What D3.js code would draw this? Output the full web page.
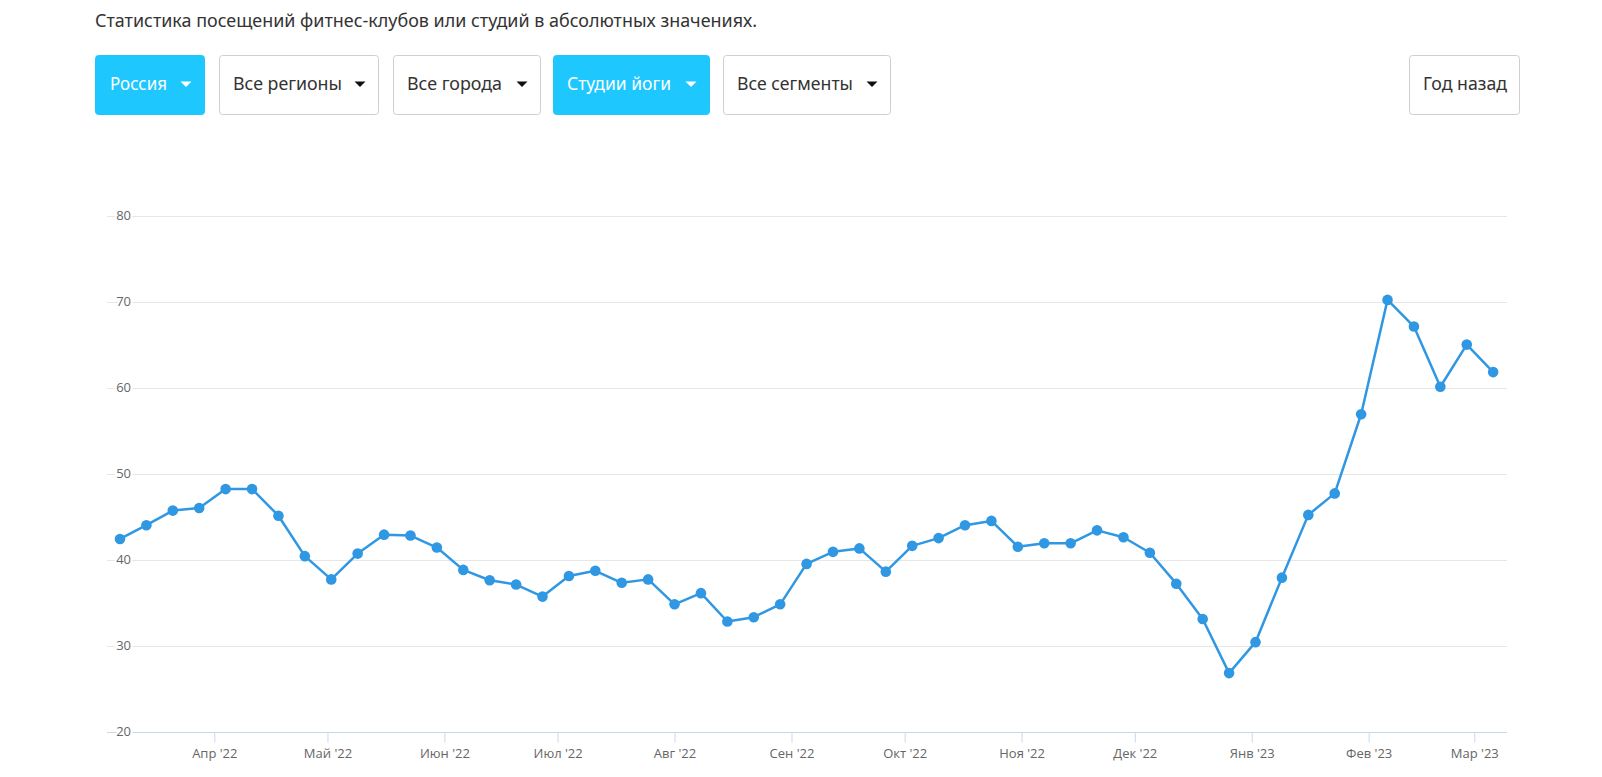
<!DOCTYPE html>
<html>
<head>
<meta charset="utf-8">
<script src="https://cdn.jsdelivr.net/npm/d3@7"></script>
<style>
html,body{margin:0;padding:0;background:#fff;}
svg{display:block;}
</style>
</head>
<body>
<svg id="chart" width="1602" height="777"></svg>
<script>
// ---- data ----
const title = "Статистика посещений фитнес-клубов или студий в абсолютных значениях.";
const buttonLabels = ["Россия", "Все регионы", "Все города", "Студии йоги", "Все сегменты"];
const buttonActive = [true, false, false, true, false];
const rightButtonLabel = "Год назад";
const startWeek = "2022-03-07";
const values = [42.4, 44.0, 45.7, 46.0, 48.2, 48.2, 45.1, 40.4, 37.7, 40.7, 42.9, 42.8, 41.4, 38.8, 37.6, 37.1, 35.7, 38.1,
  38.7, 37.3, 37.7, 34.8, 36.1, 32.8, 33.3, 34.8, 39.5, 40.9, 41.3, 38.6, 41.6, 42.5, 44.0, 44.5, 41.5, 41.9, 41.9,
  43.4, 42.6, 40.8, 37.2, 33.1, 26.8, 30.4, 37.9, 45.2, 47.7, 56.9, 70.2, 67.1, 60.1, 65.0, 61.8];
const monthTicks = ["2022-04-01","2022-05-01","2022-06-01","2022-07-01","2022-08-01","2022-09-01","2022-10-01","2022-11-01","2022-12-01","2023-01-01","2023-02-01","2023-03-01"];
const monthLabels = ["Апр '22","Май '22","Июн '22","Июл '22","Авг '22","Сен '22","Окт '22","Ноя '22","Дек '22","Янв '23","Фев '23","Мар '23"];
const yTicks = [20, 30, 40, 50, 60, 70, 80];

// ---- layout ----
const svg = d3.select("#chart");
const parse = d3.utcParse("%Y-%m-%d");
const start = parse(startWeek);
const dates = values.map((v, i) => d3.utcDay.offset(start, i * 7));
const data = values.map((v, i) => ({date: dates[i], value: v}));

const plotLeft = 107, plotRight = 1507;
const x = d3.scaleUtc().domain([parse("2022-04-01"), parse("2023-03-01")]).range([214.3, 1474.3]);
const y = d3.scaleLinear().domain([20, 80]).range([731.6, 215.6]);

// title
svg.append("text")
  .attr("x", 95).attr("y", 27)
  .attr("font-family", "'Noto Sans', 'Open Sans', sans-serif")
  .attr("font-size", 17.5)
  .attr("fill", "#333")
  .attr("textLength", 662)
  .attr("lengthAdjust", "spacingAndGlyphs")
  .text(title);

// buttons
const btnGeom = [
  {x: 95, w: 110, tx: 110, tl: 57},
  {x: 219, w: 160, tx: 233, tl: 109},
  {x: 393, w: 148, tx: 407, tl: 95},
  {x: 553, w: 157, tx: 567, tl: 104},
  {x: 723, w: 168, tx: 737, tl: 116}
];
const btnTop = 55, btnH = 60;
buttonLabels.forEach((lab, i) => {
  const g = btnGeom[i];
  const active = buttonActive[i];
  const grp = svg.append("g");
  grp.append("rect")
    .attr("x", g.x + 0.5).attr("y", btnTop + 0.5)
    .attr("width", g.w - 1).attr("height", btnH - 1)
    .attr("rx", 3).attr("ry", 3)
    .attr("fill", active ? "#1ec8ff" : "#fff")
    .attr("stroke", active ? "#1ec8ff" : "#cfcfcf");
  grp.append("text")
    .attr("x", g.tx).attr("y", btnTop + 35)
    .attr("font-family", "'Noto Sans', 'Open Sans', sans-serif")
    .attr("font-size", 18)
    .attr("fill", active ? "#fff" : "#333")
    .attr("textLength", g.tl)
    .attr("lengthAdjust", "spacingAndGlyphs")
    .text(lab);
  const cx = g.x + g.w - 19, cy = btnTop + 29;
  grp.append("path")
    .attr("d", `M${cx - 5.5},${cy - 2.5} L${cx + 5.5},${cy - 2.5} L${cx},${cy + 3} Z`)
    .attr("fill", active ? "#fff" : "#111");
});
// right button
svg.append("rect")
  .attr("x", 1409.5).attr("y", btnTop + 0.5)
  .attr("width", 110).attr("height", btnH - 1)
  .attr("rx", 3).attr("ry", 3)
  .attr("fill", "#fff").attr("stroke", "#cfcfcf");
svg.append("text")
  .attr("x", 1423).attr("y", btnTop + 35)
  .attr("font-family", "'Noto Sans', 'Open Sans', sans-serif")
  .attr("font-size", 18).attr("fill", "#333")
  .attr("textLength", 84).attr("lengthAdjust", "spacingAndGlyphs")
  .text(rightButtonLabel);

// gridlines
const grid = svg.append("g");
grid.selectAll("line").data(yTicks.filter(t => t !== 20)).join("line")
  .attr("x1", plotLeft).attr("x2", plotRight)
  .attr("y1", d => Math.round(y(d)) + 0.5).attr("y2", d => Math.round(y(d)) + 0.5)
  .attr("stroke", "#e6e6e6").attr("stroke-width", 1);

// x axis
const xAxis = d3.axisBottom(x)
  .tickValues(monthTicks.map(parse))
  .tickFormat((d, i) => monthLabels[i])
  .tickSize(10)
  .tickPadding(6);
const xg = svg.append("g").attr("transform", `translate(0,${Math.round(y(20)) + 0.5})`).call(xAxis);
xg.select(".domain").remove();
xg.append("line").attr("x1", plotLeft).attr("x2", plotRight).attr("y1", 0).attr("y2", 0)
  .attr("stroke", "#ccd6eb").attr("stroke-width", 1);
xg.selectAll(".tick line").attr("stroke", "#ccd6eb");
xg.selectAll(".tick text")
  .attr("font-family", "'Open Sans', sans-serif")
  .attr("font-size", 13)
  .attr("fill", "#666");

// y labels
svg.append("g").selectAll("text").data(yTicks).join("text")
  .attr("x", 131).attr("y", d => y(d))
  .attr("dy", "0.35em")
  .attr("text-anchor", "end")
  .attr("font-family", "'Open Sans', sans-serif")
  .attr("font-size", 13)
  .attr("fill", "#666")
  .attr("stroke", "#fff").attr("stroke-width", 4)
  .attr("paint-order", "stroke")
  .text(d => d);

// line
const lineColor = "#3097e3";
svg.append("path")
  .datum(data)
  .attr("fill", "none")
  .attr("stroke", lineColor)
  .attr("stroke-width", 2.5)
  .attr("stroke-linejoin", "round")
  .attr("d", d3.line().x(d => x(d.date)).y(d => y(d.value)));

svg.append("g").selectAll("circle").data(data).join("circle")
  .attr("cx", d => x(d.date)).attr("cy", d => y(d.value))
  .attr("r", 5.3)
  .attr("fill", lineColor);
</script>
</body>
</html>
